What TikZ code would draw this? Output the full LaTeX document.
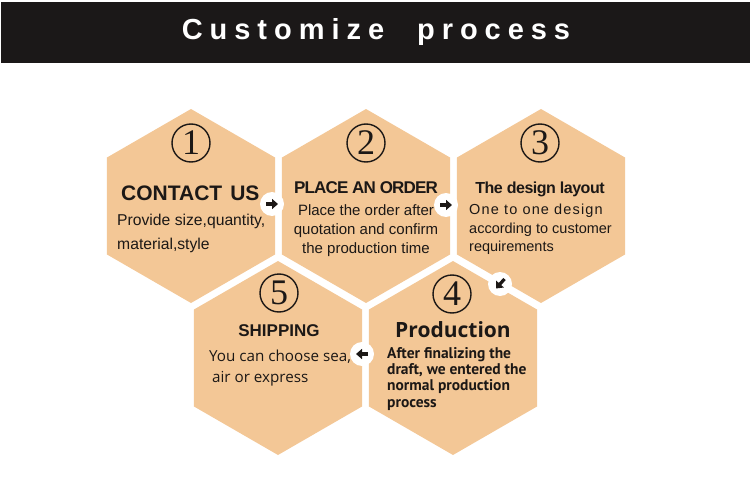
\documentclass[tikz,border=0pt]{standalone}
\usepackage{fontspec}
\setmainfont{Liberation Sans}
\newfontfamily\numfont{Liberation Serif}
\newfontfamily\humfont{Open Sans}
\newfontfamily\humbold{PT Sans}
\usetikzlibrary{shapes.geometric, arrows.meta}
\definecolor{hexfill}{RGB}{243,199,150}
\definecolor{band}{RGB}{27,24,24}
\definecolor{ink}{RGB}{28,24,22}
\newcommand{\fsz}[2]{\fontsize{#1}{#2}\selectfont}

\begin{document}
\begin{tikzpicture}[x=1pt, y=-1pt,
    hex/.style = {regular polygon, regular polygon sides=6, shape border rotate=30,
                  minimum size=194pt, inner sep=0pt, fill=hexfill},
    num/.style = {circle, draw=ink, line width=1.4pt, minimum size=38pt, inner sep=0pt,
                  text=ink, font=\numfont\fsz{36}{36}},
    head/.style = {text=ink, inner sep=0pt, font=\bfseries\fsz{17}{20}},
    body/.style = {text=ink, inner sep=0pt, font=\fsz{15}{19}},
    dot/.style = {circle, fill=white, minimum size=24pt, inner sep=0pt},
    arr/.style = {ink, line width=3.2pt, -{Triangle[length=6pt, width=10pt]}}]
  \useasboundingbox (0,0) rectangle (750,495);

  % Title bar
  \node[fill=band, minimum width=750pt, minimum height=61pt, inner sep=0pt, text=white,
        font=\bfseries\fsz{29}{29}\addfontfeature{LetterSpace=24}] (title) at (376,32.5)
        {Customize\hspace{33pt}process};

  % Hexagons
  \node[hex] (h1) at (191,206) {};
  \node[hex] (h2) at (366,206) {};
  \node[hex] (h3) at (541,206) {};
  \node[hex] (h4) at (453,358) {};
  \node[hex] (h5) at (278,358) {};

  % Numbers
  \node[num] (n1) at (191,143) {1};
  \node[num] (n2) at (366,143) {2};
  \node[num] (n3) at (540,143) {3};
  \node[num] (n4) at (452,294) {4};
  \node[num] (n5) at (279,293) {5};

  % Step 1
  \node[head, anchor=base west, font=\bfseries\fsz{21}{21}] (t1) at (121,200) {CONTACT\hspace{8pt}US};
  \node[body, anchor=north west, align=left, font=\fsz{15.7}{24}] (b1) at (117,214)
        {Provide size,quantity,\\material,style};
  % Step 2
  \node[head, anchor=base, font=\bfseries\fsz{17}{17}\addfontfeature{LetterSpace=-5}] (t2) at (366,193)
        {PLACE AN ORDER};
  \node[body, anchor=north, align=center] (b2) at (366,204)
        {Place the order after\\quotation and confirm\\the production time};
  % Step 3
  \node[head, anchor=base, font=\bfseries\fsz{16}{16}\addfontfeature{LetterSpace=-3}] (t3) at (540,193)
        {The design layout};
  \node[body, anchor=north west, align=left, font=\fsz{14.5}{18.5}] (b3) at (469,204)
        {{\addfontfeature{LetterSpace=8}One to one design}\\according to customer\\requirements};
  % Step 4
  \node[head, anchor=base, font=\humfont\bfseries\fsz{21}{21}] (t4) at (453,337) {Production};
  \node[body, anchor=north west, align=left, font=\humbold\bfseries\fsz{15.5}{16.3}] (b4) at (387,347)
        {After finalizing the\\draft, we entered the\\normal production\\process};
  % Step 5
  \node[head, anchor=base] (t5) at (279,336) {SHIPPING};
  \node[body, anchor=north west, align=left, font=\humfont\fsz{15.2}{21}] (b5) at (209,350)
        {You can choose sea,\\\hspace*{3pt}air or express};

  % Arrows
  \node[dot] (a12) at (272,204) {};
  \node[dot] (a23) at (446,205) {};
  \node[dot] (a34) at (500,284) {};
  \node[dot] (a45) at (362,354) {};
  \draw[arr] ([xshift=-6pt]a12.center) -- ([xshift=6pt]a12.center);
  \draw[arr] ([xshift=-6pt]a23.center) -- ([xshift=6pt]a23.center);
  \draw[arr] ([shift={(4.5,-5)}]a34.center) -- ([shift={(-4,4.5)}]a34.center);
  \draw[arr] ([xshift=6pt]a45.center) -- ([xshift=-6pt]a45.center);
\end{tikzpicture}
\end{document}
